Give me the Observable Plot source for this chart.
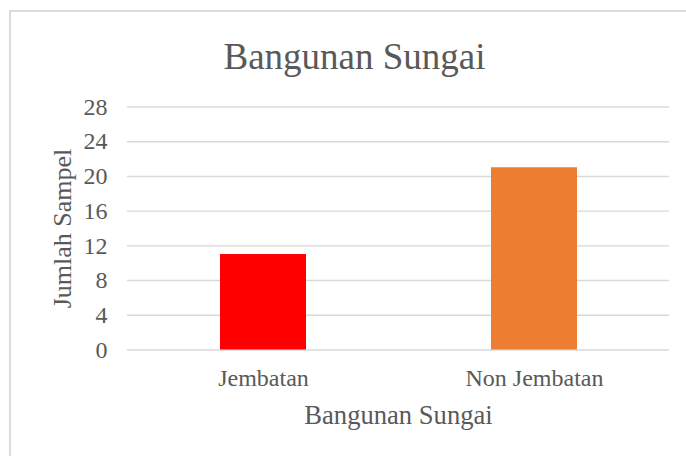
<!DOCTYPE html>
<html>
<head>
<meta charset="utf-8">
<script src="https://cdn.jsdelivr.net/npm/d3@7"></script>
<script src="https://cdn.jsdelivr.net/npm/@observablehq/plot@0.6"></script>
<style>
  html, body { margin: 0; padding: 0; background: #fff; overflow: hidden; }
  #wrap { position: relative; width: 686px; height: 456px; overflow: hidden; }
  #frame { position: absolute; left: 9px; top: 10px; width: 720px; height: 500px;
           border-left: 2px solid #dcdcdc; border-top: 2px solid #dcdcdc; box-sizing: border-box; }
  #chart { position: absolute; left: 0; top: 0; }
  #chart svg, #chart svg text, #chart svg g { font-family: "Liberation Serif", Tinos, "DejaVu Serif", serif !important; }
</style>
</head>
<body>
<div id="wrap"><div id="frame"></div><div id="chart"></div></div>
<script>
const categories = ["Jembatan", "Non Jembatan"];
const values = [11, 21];
const yTicks = [0, 4, 8, 12, 16, 20, 24, 28];
const chartTitle = "Bangunan Sungai";
const xTitle = "Bangunan Sungai";
const yTitle = "Jumlah Sampel";

const data = categories.map((c, i) => ({ category: c, value: values[i] }));
const textColor = "#595959";
const font = "'Liberation Serif', Tinos, 'DejaVu Serif', serif";

const chart = Plot.plot({
  width: 686,
  height: 456,
  marginLeft: 127,
  marginRight: 17,
  marginTop: 106.5,
  marginBottom: 106.5,
  style: { color: textColor, background: "transparent", overflow: "visible" },
  x: { domain: categories, paddingInner: 0.683, paddingOuter: 0.3415, label: null },
  y: { domain: [0, 28], ticks: yTicks, label: null },
  color: { domain: categories, range: ["#ff0000", "#ed7d31"] },
  marks: [
    Plot.gridY(yTicks, { stroke: "#d9d9d9", strokeOpacity: 1, strokeWidth: 1.4 }),
    Plot.barY(data, { x: "category", y: "value", fill: "category" }),
    Plot.axisY(yTicks, { tickSize: 0, tickPadding: 20, fontSize: 24, fontFamily: font, fill: textColor, label: null }),
    Plot.axisX({ tickSize: 0, tickPadding: 19, fontSize: 24, fontFamily: font, fill: textColor, label: null }),
    Plot.text([chartTitle], { frameAnchor: "top", text: d => d, fontSize: 37, fontFamily: font, fill: textColor, textAnchor: "middle", lineAnchor: "middle", dx: -44, dy: -50.3 }),
    Plot.text([xTitle], { frameAnchor: "bottom", text: d => d, fontSize: 26.6, fontFamily: font, fill: textColor, textAnchor: "middle", lineAnchor: "middle", dy: 65 }),
    Plot.text([yTitle], { frameAnchor: "left", text: d => d, fontSize: 26, fontFamily: font, fill: textColor, textAnchor: "middle", lineAnchor: "middle", rotate: -90, dx: -65.3 })
  ]
});
document.getElementById("chart").appendChild(chart);
</script>
</body>
</html>
